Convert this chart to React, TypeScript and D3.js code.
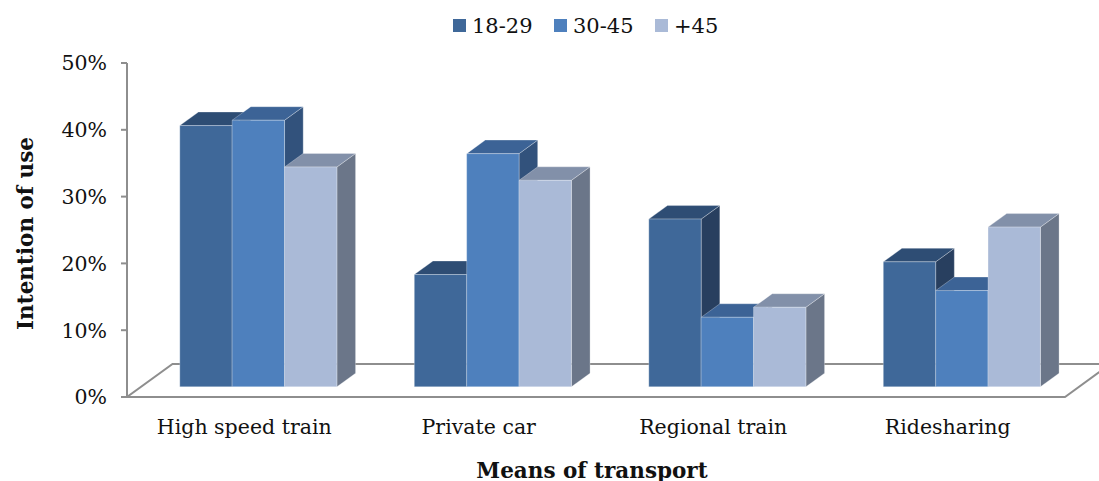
import React from "react";
import * as d3 from "d3";

// Data
const categories = ["High speed train", "Private car", "Regional train", "Ridesharing"];
const series = ["18-29", "30-45", "+45"];
const values18to29 = [39.1, 16.8, 25.1, 18.7];
const values30to45 = [39.9, 34.9, 10.4, 14.4];
const valuesOver45 = [32.9, 30.9, 11.9, 23.9];
const yTicks = [0, 10, 20, 30, 40, 50];

const seriesValues = [values18to29, values30to45, valuesOver45];

// Shading for each series: front, top and right side faces
const palette = [
  { front: "#3F6899", top: "#2E4D74", side: "#283F5F" },
  { front: "#4E80BD", top: "#3C6396", side: "#32527C" },
  { front: "#AABAD7", top: "#8290A9", side: "#6B7689" },
];

const W = 1099;
const H = 481;
const FONT = "'DejaVu Serif', Georgia, serif";
const AXIS = "#8E8E8E";

// Front plane of the plot
const x0 = 127;
const x1 = 1065;
const yBase = 397;
const yTop = 63;
// Oblique depth vector of the floor (front edge -> back edge)
const depth = { dx: 45.5, dy: -33 };
// Depth fractions occupied by the bars
const dFront = 0.31;
const dBack = 0.72;

export default function App() {
  const x = d3.scaleBand<string>().domain(categories).range([x0, x1]).paddingInner(0.33).paddingOuter(0.165);
  const xs = d3.scaleBand<string>().domain(series).range([0, x.bandwidth()]).padding(0);
  const y = d3.scaleLinear().domain([0, 50]).range([yBase, yTop]);

  const P = (px: number, py: number, d: number): [number, number] => [px + d * depth.dx, py + d * depth.dy];
  const poly = (pts: [number, number][]) => pts.map((p) => p.join(",")).join(" ");

  const bars: React.ReactNode[] = [];
  categories.forEach((cat, ci) => {
    series.forEach((s, si) => {
      const v = seriesValues[si][ci];
      const l = (x(cat) as number) + (xs(s) as number);
      const r = l + xs.bandwidth();
      const t = y(v);
      const b = y(0);
      const c = palette[si];
      const flt = P(l, t, dFront), frt = P(r, t, dFront), flb = P(l, b, dFront), frb = P(r, b, dFront);
      const blt = P(l, t, dBack), brt = P(r, t, dBack), brb = P(r, b, dBack);
      bars.push(
        <g key={`${ci}-${si}`} stroke="rgba(255,255,255,0.35)" strokeWidth={0.8} strokeLinejoin="round">
          <polygon points={poly([frt, brt, brb, frb])} fill={c.side} />
          <polygon points={poly([flt, frt, brt, blt])} fill={c.top} />
          <polygon points={poly([flt, frt, frb, flb])} fill={c.front} />
        </g>
      );
    });
  });

  const floor: [number, number][] = [P(x0, yBase, 0), P(x1, yBase, 0), P(x1, yBase, 1), P(x0, yBase, 1)];

  return (
    <svg width={W} height={H} viewBox={`0 0 ${W} ${H}`} style={{ position: "absolute", left: 0, top: 0, background: "#fff" }}>
      {/* floor outline */}
      <polygon points={poly(floor)} fill="none" stroke={AXIS} strokeWidth={2} />
      {/* value axis */}
      <line x1={x0} x2={x0} y1={y(50)} y2={y(0)} stroke={AXIS} strokeWidth={2} />
      {yTicks.map((t) => (
        <g key={t}>
          <line x1={x0 - 6} x2={x0} y1={y(t)} y2={y(t)} stroke={AXIS} strokeWidth={2} />
          <text x={107} y={y(t)} dy="0.36em" textAnchor="end" fontFamily={FONT} fontSize={20.5} fill="#111">
            {`${t}%`}
          </text>
        </g>
      ))}
      {bars}
      {/* category labels */}
      {categories.map((cat) => (
        <text key={cat} x={(x(cat) as number) + x.bandwidth() / 2} y={433.5} textAnchor="middle" fontFamily={FONT} fontSize={20.5} fill="#111">
          {cat}
        </text>
      ))}
      {/* axis titles */}
      <text x={592} y={477.5} textAnchor="middle" fontFamily={FONT} fontSize={21.5} fontWeight="bold" fill="#111">
        Means of transport
      </text>
      <text transform="translate(33,233.5) rotate(-90)" textAnchor="middle" fontFamily={FONT} fontSize={21.5} fontWeight="bold" fill="#111">
        Intention of use
      </text>
      {/* legend */}
      {series.map((s, i) => {
        const lx = [453, 554, 655][i];
        return (
          <g key={s}>
            <rect x={lx} y={19} width={13} height={13} fill={palette[i].front} />
            <text x={lx + 19} y={32.5} fontFamily={FONT} fontSize={21} fill="#111">
              {s}
            </text>
          </g>
        );
      })}
    </svg>
  );
}
